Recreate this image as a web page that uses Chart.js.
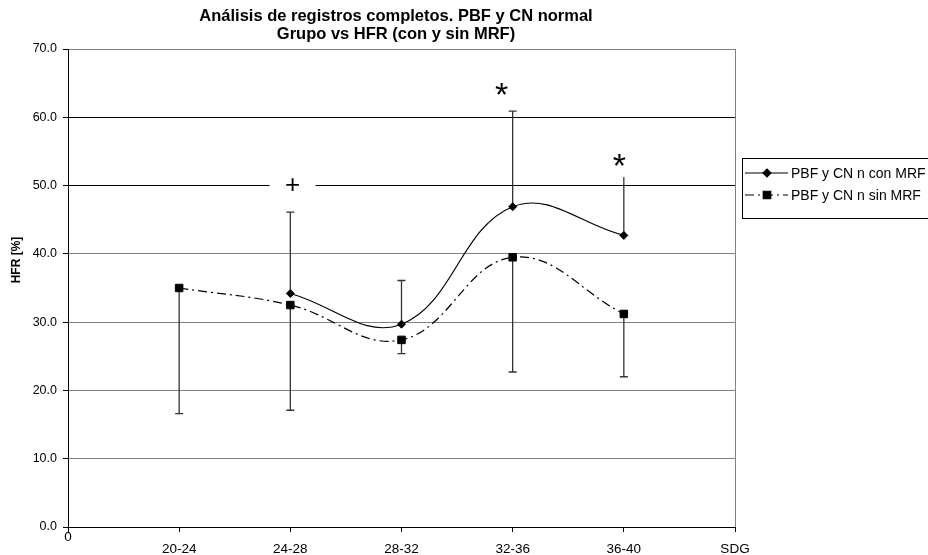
<!DOCTYPE html>
<html>
<head>
<meta charset="utf-8">
<script src="https://cdn.jsdelivr.net/npm/chart.js@4.4.0/dist/chart.umd.min.js"></script>
<style>
  html, body { margin: 0; padding: 0; background: #fff; }
</style>
</head>
<body>
<canvas id="chartHFR" width="928" height="555"></canvas>
<script>
/* Datos de la grafica */
const categorias = ["0", "20-24", "24-28", "28-32", "32-36", "36-40", "SDG"];
const conMRF = [null, null, 34.2, 29.7, 46.9, 42.7, null];
const conMRFError = [null, null, 11.9, 6.4, 14.0, 8.7, null]; // solo hacia arriba
const sinMRF = [null, 35.0, 32.5, 27.4, 39.5, 31.2, null];
const sinMRFError = [null, 18.4, 15.4, 2.0, 16.8, 9.2, null]; // solo hacia abajo
const marcasX = [2.02, 3.9, 4.96];
const marcasY = [50.0, 63.0, 52.7];
const marcasTexto = ["+", "*", "*"];
const ticksY = [0, 10, 20, 30, 40, 50, 60, 70];

const FUENTE = "'Liberation Sans', Arial, sans-serif";

/* Etiquetas del eje x: el "0" va mas arriba que las demas */
const etiquetasX = categorias.map((c, i) => (i === 0 ? c : ["", c]));

/* Plugin para barras de error, marcas, titulo y leyenda */
const extras = {
  id: "extras",
  beforeDatasetsDraw(chart) {
    const ctx = chart.ctx;
    const x = chart.scales.x;
    const y = chart.scales.y;
    const a = chart.chartArea;
    ctx.save();
    // borde derecho del area de trazado
    ctx.strokeStyle = "#808080";
    ctx.lineWidth = 1;
    ctx.beginPath();
    ctx.moveTo(a.right + 0.5, a.top);
    ctx.lineTo(a.right + 0.5, a.bottom);
    ctx.stroke();

    ctx.strokeStyle = "#333";
    ctx.lineWidth = 1.3;
    const barra = (i, v, e) => {
      const px = x.getPixelForValue(i);
      const p0 = y.getPixelForValue(v);
      const p1 = y.getPixelForValue(e);
      ctx.beginPath();
      ctx.moveTo(px, p0);
      ctx.lineTo(px, p1);
      ctx.moveTo(px - 4, p1);
      ctx.lineTo(px + 4, p1);
      ctx.stroke();
    };
    categorias.forEach((c, i) => {
      if (conMRF[i] !== null) barra(i, conMRF[i], conMRF[i] + conMRFError[i]);
      if (sinMRF[i] !== null) barra(i, sinMRF[i], sinMRF[i] - sinMRFError[i]);
    });
    ctx.restore();
  },
  afterDraw(chart) {
    const ctx = chart.ctx;
    const x = chart.scales.x;
    const y = chart.scales.y;
    ctx.save();

    // marcas de significancia (con fondo blanco)
    marcasTexto.forEach((t, i) => {
      const px = x.getPixelForValue(marcasX[i]);
      const py = y.getPixelForValue(marcasY[i]);
      ctx.fillStyle = "#fff";
      ctx.fillRect(px - 23, py - 13, 46, 23);
      ctx.fillStyle = "#000";
      ctx.font = (t === "*" ? "34px " : "26px ") + FUENTE;
      ctx.textAlign = "center";
      ctx.textBaseline = "middle";
      ctx.fillText(t, px, py);
    });

    // titulo
    ctx.fillStyle = "#000";
    ctx.font = "bold 16.5px " + FUENTE;
    ctx.textAlign = "center";
    ctx.textBaseline = "middle";
    ctx.fillText("Análisis de registros completos. PBF y CN normal", 396, 16);
    ctx.fillText("Grupo vs HFR (con y sin MRF)", 396, 34);

    // titulo del eje y
    ctx.save();
    ctx.translate(17, 260);
    ctx.rotate(-Math.PI / 2);
    ctx.font = "bold 12px " + FUENTE;
    ctx.fillText("HFR [%]", 0, 0);
    ctx.restore();

    // leyenda
    ctx.strokeStyle = "#000";
    ctx.lineWidth = 1;
    ctx.strokeRect(742.5, 158.5, 200, 60);
    chart.data.datasets.forEach((ds, i) => {
      const fy = 173 + i * 22;
      ctx.strokeStyle = "#000";
      ctx.lineWidth = 1.2;
      ctx.setLineDash(ds.borderDash || []);
      ctx.beginPath();
      ctx.moveTo(745, fy);
      ctx.lineTo(788, fy);
      ctx.stroke();
      ctx.setLineDash([]);
      Chart.helpers.drawPoint(ctx, {
        pointStyle: ds.pointStyle,
        radius: ds.pointRadius,
        borderWidth: 1
      }, 767, fy);
      ctx.fillStyle = "#000";
      ctx.font = "14px " + FUENTE;
      ctx.textAlign = "left";
      ctx.fillText(ds.label, 791, fy + 1);
    });
    ctx.restore();
  }
};

const chartHFR = new Chart(document.getElementById("chartHFR").getContext("2d"), {
  type: "line",
  data: {
    labels: etiquetasX,
    datasets: [
      {
        label: "PBF y CN n con MRF",
        data: conMRF,
        borderColor: "#000",
        backgroundColor: "#000",
        borderWidth: 1.2,
        tension: 0.4,
        pointStyle: "rectRot",
        pointRadius: 4,
        pointBorderWidth: 1,
        fill: false
      },
      {
        label: "PBF y CN n sin MRF",
        data: sinMRF,
        borderColor: "#000",
        backgroundColor: "#000",
        borderWidth: 1.2,
        borderDash: [9, 4, 2, 4],
        tension: 0.4,
        pointStyle: "rect",
        pointRadius: 5.3,
        pointBorderWidth: 1,
        fill: false
      }
    ]
  },
  options: {
    responsive: false,
    animation: false,
    layout: { padding: { top: 49, right: 193, left: 0, bottom: 0 } },
    plugins: {
      legend: { display: false },
      title: { display: false },
      tooltip: { enabled: false }
    },
    scales: {
      x: {
        type: "category",
        offset: false,
        border: { color: "#000", width: 1 },
        grid: { drawOnChartArea: false, drawTicks: true, tickLength: 5, tickColor: "#000" },
        ticks: {
          color: "#000",
          padding: 0,
          autoSkip: false,
          maxRotation: 0,
          font: { family: FUENTE, size: 13.5, lineHeight: 0.85 }
        },
        afterFit(scale) { scale.height = 28; }
      },
      y: {
        min: 0,
        max: 70,
        afterBuildTicks(scale) { scale.ticks = ticksY.map((v) => ({ value: v })); },
        border: { color: "#000", width: 1 },
        grid: {
          color: (c) => (c.tick && (c.tick.value === 50 || c.tick.value === 60) ? "#000" : "#808080"),
          tickColor: "#000",
          tickLength: 5
        },
        ticks: {
          color: "#000",
          padding: 6,
          font: { family: FUENTE, size: 12.5 },
          callback: (v) => Number(v).toFixed(1)
        },
        afterFit(scale) { scale.width = 68; }
      }
    }
  },
  plugins: [extras]
});
</script>
</body>
</html>
